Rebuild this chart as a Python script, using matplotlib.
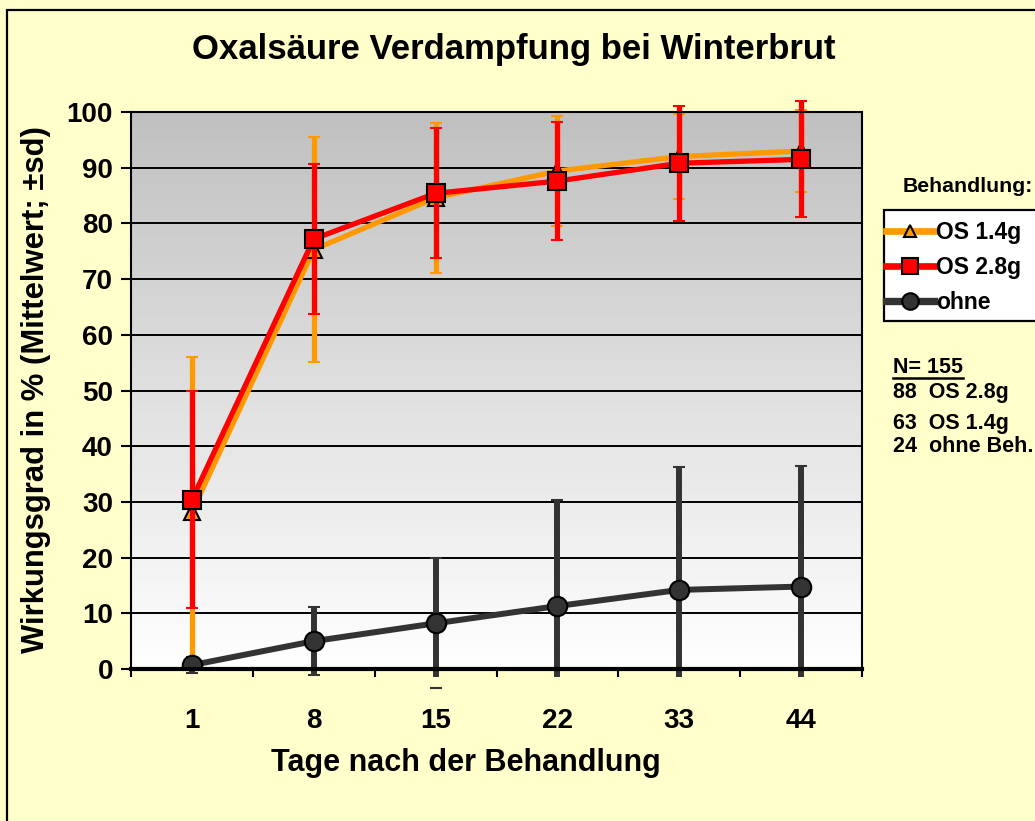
"""
Oxalsäure Verdampfung bei Winterbrut - Wirkungsgrad nach Tagen
"""
import matplotlib
matplotlib.use("Agg")
import matplotlib.pyplot as plt
import numpy as np
from matplotlib.colors import LinearSegmentedColormap
from matplotlib.patches import Rectangle
from matplotlib.lines import Line2D

plt.rcParams['font.family'] = ['Liberation Sans', 'DejaVu Sans']
plt.rcParams['font.weight'] = 'bold'

# Daten
tage = ['1', '8', '15', '22', '33', '44']
os14_mean = [28.2, 75.3, 84.6, 89.4, 92.0, 93.0]
os14_sd = [27.8, 20.2, 13.5, 9.8, 7.7, 7.4]
os28_mean = [30.4, 77.2, 85.4, 87.6, 90.8, 91.5]
os28_sd = [19.5, 13.5, 11.7, 10.6, 10.3, 10.4]
ohne_mean = [0.7, 5.0, 8.2, 11.3, 14.2, 14.8]
ohne_sd = [1.5, 6.1, 11.7, 19.0, 22.1, 21.7]

n_text = ['88  OS 2.8g', '63  OS 1.4g', '24  ohne Beh.']

BG = '#FFFFCC'
styles = [('OS 1.4g', '#FF9900', '^', 11, 3.8),
          ('OS 2.8g', '#FF0000', 's', 13, 3.8),
          ('ohne', '#333333', 'o', 14, 4.3)]


def draw_series(ax, x, mean, sd, style, z):
    label, color, marker, ms, lw = style
    line, caps, bars = ax.errorbar(
        x, mean, yerr=sd, color=color, lw=lw, marker=marker, ms=ms,
        markerfacecolor=color, markeredgecolor='black', markeredgewidth=1.5,
        ecolor=color, elinewidth=lw, capsize=4.5, capthick=4.5,
        zorder=z)
    # Fehlerbalken etwas unterhalb der Achse abschneiden (wie im Original)
    clip_bar = Rectangle((0, -0.014), 1, 1.2, transform=ax.transAxes)
    clip_cap = Rectangle((0, -0.04), 1, 1.2, transform=ax.transAxes)
    for b in bars:
        b.set_clip_path(clip_bar)
    for c in caps:
        c.set_clip_path(clip_cap)
    return line


def main():
    fig = plt.figure(figsize=(10.35, 8.21), dpi=100, facecolor=BG)
    ax = fig.add_axes([131 / 1035, 1 - 669 / 821, 731 / 1035, 557 / 821])
    ax.set_facecolor('white')

    # Verlauf grau -> weiß
    cmap = LinearSegmentedColormap.from_list('g', ['white', '#C0C0C0'])
    grad = np.linspace(0, 1, 256).reshape(-1, 1)
    ax.imshow(grad, cmap=cmap, aspect='auto', origin='lower',
              extent=[0, 1, 0, 1], transform=ax.transAxes, zorder=0)

    x = np.arange(len(tage))
    for yv in range(10, 100, 10):
        ax.axhline(yv, color='black', lw=1.4, zorder=1)

    draw_series(ax, x, os14_mean, os14_sd, styles[0], 3)
    draw_series(ax, x, os28_mean, os28_sd, styles[1], 4)
    draw_series(ax, x, ohne_mean, ohne_sd, styles[2], 5)

    ax.set_xlim(-0.5, len(tage) - 0.5)
    ax.set_ylim(0, 100)
    ax.set_yticks(range(0, 101, 10))
    ax.set_xticks(x)
    ax.set_xticklabels(tage)
    ax.set_xticks(np.arange(-0.5, len(tage), 1), minor=True)
    ax.tick_params(axis='x', which='major', length=0, pad=28, labelsize=20)
    ax.tick_params(axis='x', which='minor', length=6, width=1.5, direction='out')
    ax.tick_params(axis='y', length=7, width=1.5, direction='out', pad=6,
                   labelsize=20)
    for lab in ax.get_xticklabels() + ax.get_yticklabels():
        lab.set_fontweight('bold')
    for s in ['left', 'right', 'top']:
        ax.spines[s].set_linewidth(1.5)
        ax.spines[s].set_zorder(6)
    ax.spines['bottom'].set_linewidth(3)
    ax.spines['bottom'].set_zorder(6)

    fig.text(514 / 1035, 1 - 50 / 821, 'Oxalsäure Verdampfung bei Winterbrut',
             ha='center', va='center', fontsize=25, fontweight='bold')
    fig.text(466 / 1035, 1 - 763 / 821, 'Tage nach der Behandlung',
             ha='center', va='center', fontsize=22, fontweight='bold')
    fig.text(36 / 1035, 1 - 390 / 821, 'Wirkungsgrad in % (Mittelwert; ±sd)',
             ha='center', va='center', rotation=90, fontsize=22.3,
             fontweight='bold')

    # Legende (Rahmen läuft über den rechten Bildrand hinaus)
    fig.text(903 / 1035, 1 - 186 / 821, 'Behandlung:', ha='left', va='center',
             fontsize=15.3, fontweight='bold')
    fig.add_artist(Rectangle((884 / 1035, 1 - 321 / 821), 0.3, 111 / 821,
                             transform=fig.transFigure, facecolor='white',
                             edgecolor='black', lw=1.6, zorder=2))
    handles = [Line2D([], [], color=c, lw=lw + 1, marker=m, ms=ms * 0.85,
                      markerfacecolor=c, markeredgecolor='black',
                      markeredgewidth=1.5, label=lab)
               for lab, c, m, ms, lw in styles]
    leg = fig.legend(handles=handles, loc='upper left',
                     bbox_to_anchor=(886 / 1035, 1 - 221 / 821),
                     bbox_transform=fig.transFigure, frameon=False,
                     handlelength=2.1, handletextpad=0.1, borderpad=0.0,
                     labelspacing=0.52, borderaxespad=0,
                     prop={'size': 16.5, 'weight': 'bold'})
    leg.set_zorder(3)

    # Stichprobengröße
    fig.text(893 / 1035, 1 - 367 / 821, 'N= 155', ha='left', va='center',
             fontsize=15.5, fontweight='bold')
    fig.add_artist(Line2D([893 / 1035, 963 / 1035],
                          [1 - 378 / 821, 1 - 378 / 821],
                          transform=fig.transFigure, color='black', lw=1.8))
    for i, t in enumerate(n_text):
        yy = [392, 423, 446][i]
        fig.text(893 / 1035, 1 - yy / 821, t, ha='left', va='center',
                 fontsize=15.5, fontweight='bold')

    # Rahmen um die Grafik
    fig.add_artist(Rectangle((7 / 1035, -0.1), 1.2, 1.1 - 10 / 821,
                             transform=fig.transFigure, fill=False,
                             edgecolor='black', lw=1.6))

    plt.savefig('out.png', dpi=100, facecolor=BG)


if __name__ == "__main__":
    main()
